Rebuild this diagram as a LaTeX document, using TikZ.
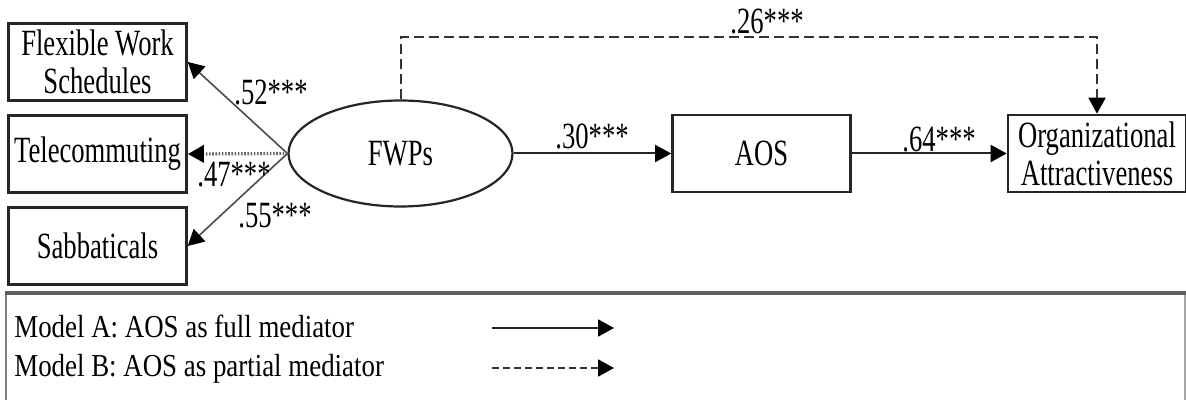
\documentclass[tikz,border=0pt]{standalone}
\usepackage{fontspec}
\newfontfamily\boxfont[FakeStretch=0.72]{Liberation Serif}
\newfontfamily\legfont[FakeStretch=0.84]{Liberation Serif}
\usetikzlibrary{arrows.meta,shapes.geometric}
\begin{document}
\begin{tikzpicture}[x=0.5pt,y=-0.5pt,
  tip/.style={-{Triangle[length=8pt,width=8.5pt,color=black]}},
  box/.style={draw=black!85, line width=1.3pt, minimum width=89pt, minimum height=38.5pt,
    inner sep=0pt, align=center, font={\boxfont\fontsize{18.5}{19}\selectfont}},
  latent/.style={draw=black!85, line width=1.1pt, ellipse, minimum width=112pt, minimum height=53pt,
    inner sep=0pt, font={\boxfont\fontsize{18.5}{19}\selectfont}},
  coef/.style={inner sep=0pt, font={\boxfont\fontsize{18.5}{19}\selectfont}},
  solidarrow/.style={tip, draw=black!85, line width=1pt},
  dasharrow/.style={tip, draw=black!80, line width=1pt, dash pattern=on 5pt off 2.5pt},
  loading/.style={tip, draw=black!70, line width=0.8pt},
  dotloading/.style={tip, draw=black!60, line width=1.6pt, dash pattern=on 0.8pt off 0.8pt},
  legtext/.style={inner sep=0pt, anchor=base west, font={\legfont\fontsize{16}{17}\selectfont}},
]
\useasboundingbox (0,0) rectangle (1186,400);
\clip (0,0) rectangle (1186,400);
\fill[white] (0,0) rectangle (1186,400);

% nodes
\node[box] (FWS) at (97.5,62) {Flexible Work\\Schedules};
\node[box] (TEL) at (97.5,154) {Telecommuting};
\node[box] (SAB) at (97.5,246) {Sabbaticals};
\node[latent] (FWP) at (400.5,153.5) {FWPs};
\node[box] (AOS) at (761.5,153.5) {AOS};
\node[box] (OA) at (1097,153.5) {Organizational\\Attractiveness};

% connectors
\draw[loading] (FWP.west) -- (FWS.east);
\draw[dotloading] (FWP.west) -- (TEL.east);
\draw[loading] (FWP.west) -- (SAB.east);
\draw[solidarrow] (FWP.east) -- (AOS.west);
\draw[solidarrow] (AOS.east) -- (OA.west);
\draw[dasharrow] (FWP.north) -- ++(0,-62) -| (OA.north);

% coefficients
\node[coef] (c52) at (271,93) {.52***};
\node[coef] (c47) at (234,175) {.47***};
\node[coef] (c55) at (275,216) {.55***};
\node[coef] (c30) at (592,136) {.30***};
\node[coef] (c64) at (939,140) {.64***};
\node[coef] (c26) at (767,22) {.26***};

% legend
\draw[gray, line width=1pt] (6,293) -- (6,410);
\draw[gray!70, line width=0.7pt] (1185,293) -- (1185,410);
\draw[gray!75!black, line width=1.6pt] (5,293) -- (1186,293);
\node[legtext] (lA) at (14,337) {Model A: AOS as full mediator};
\node[legtext] (lB) at (14,376) {Model B: AOS as partial mediator};
\coordinate (a1) at (492,328);
\coordinate (a2) at (614,328);
\coordinate (b1) at (492,368);
\coordinate (b2) at (614,368);
\draw[solidarrow] (a1) -- (a2);
\draw[tip, draw=black!80, line width=1pt, dash pattern=on 3.5pt off 2pt] (b1) -- (b2);
\end{tikzpicture}
\end{document}
